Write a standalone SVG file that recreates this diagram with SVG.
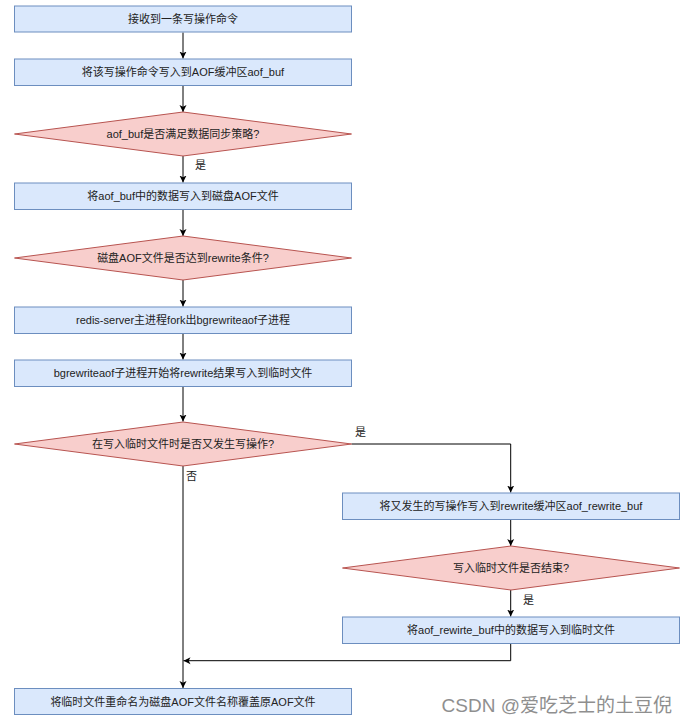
<svg xmlns="http://www.w3.org/2000/svg" width="688" height="724" viewBox="0 0 688 724">
<style>
.box{fill:#dae8fc;stroke:#6c8ebf;stroke-width:1}
.dia{fill:#f8cecc;stroke:#b85450;stroke-width:1}
.t{font-family:"Liberation Sans","Noto Sans CJK SC",sans-serif;font-size:11px;fill:#222;text-anchor:middle;dominant-baseline:central}
.lbl{font-family:"Liberation Sans","Noto Sans CJK SC",sans-serif;font-size:11px;fill:#222;dominant-baseline:central}
.c{fill:none;stroke:#000;stroke-width:1;marker-end:url(#ah)}
.wm{font-family:"Liberation Sans","Noto Sans CJK SC",sans-serif;font-size:19px;fill:#8f8f8f;text-anchor:end}
</style>
<defs>
<marker id="ah" markerWidth="8" markerHeight="8" refX="7" refY="4" orient="auto" markerUnits="userSpaceOnUse">
<path d="M0,0.5 L7,4 L0,7.5 L1.8,4 Z" fill="#000"/>
</marker>
</defs>
<rect width="688" height="724" fill="#fff"/>
<g id="connectors">
<path class="c" d="M183,32.5 V58.5"/>
<path class="c" d="M183,85.5 V112"/>
<path class="c" d="M183,156 V182.5"/>
<path class="c" d="M183,209.5 V236"/>
<path class="c" d="M183,280 V306.5"/>
<path class="c" d="M183,333.5 V359.5"/>
<path class="c" d="M183,386.5 V421.5"/>
<path class="c" d="M351.5,444 H510.7 V492.5"/>
<path class="c" d="M510.7,519.5 V546"/>
<path class="c" d="M510.7,590 V616.5"/>
<path class="c" d="M510.7,643.5 V660.7 H183.5"/>
<path class="c" d="M183,466 V688"/>
<text class="lbl" x="195" y="165">是</text>
<text class="lbl" x="355" y="432">是</text>
<text class="lbl" x="186" y="476">否</text>
<text class="lbl" x="523" y="600">是</text>
</g>
<g id="n1"><rect class="box" x="14.5" y="6" width="337" height="26"/><text class="t" x="183" y="19">接收到一条写操作命令</text></g>
<g id="n2"><rect class="box" x="14.5" y="59" width="337" height="26.5"/><text class="t" x="183" y="72">将该写操作命令写入到AOF缓冲区aof_buf</text></g>
<g id="n3"><polygon class="dia" points="183,112 351.5,134 183,156 14.5,134"/><text class="t" x="183" y="134">aof_buf是否满足数据同步策略?</text></g>
<g id="n4"><rect class="box" x="14.5" y="183" width="337" height="26.5"/><text class="t" x="183" y="196">将aof_buf中的数据写入到磁盘AOF文件</text></g>
<g id="n5"><polygon class="dia" points="183,236 351.5,258 183,280 14.5,258"/><text class="t" x="183" y="258">磁盘AOF文件是否达到rewrite条件?</text></g>
<g id="n6"><rect class="box" x="14.5" y="307" width="337" height="26.5"/><text class="t" x="183" y="320">redis-server主进程fork出bgrewriteaof子进程</text></g>
<g id="n7"><rect class="box" x="14.5" y="360" width="337" height="26.5"/><text class="t" x="183" y="373">bgrewriteaof子进程开始将rewrite结果写入到临时文件</text></g>
<g id="n8"><polygon class="dia" points="183,422 351.5,444 183,466 14.5,444"/><text class="t" x="183" y="444">在写入临时文件时是否又发生写操作?</text></g>
<g id="n9"><rect class="box" x="342.5" y="493" width="337" height="26.5"/><text class="t" x="511" y="506">将又发生的写操作写入到rewrite缓冲区aof_rewrite_buf</text></g>
<g id="n10"><polygon class="dia" points="511,546 679.5,568 511,590 342.5,568"/><text class="t" x="511" y="568">写入临时文件是否结束?</text></g>
<g id="n11"><rect class="box" x="342.5" y="617" width="337" height="26.5"/><text class="t" x="511" y="630">将aof_rewirte_buf中的数据写入到临时文件</text></g>
<g id="n12"><rect class="box" x="14.5" y="688.5" width="337" height="26"/><text class="t" x="183" y="701.5">将临时文件重命名为磁盘AOF文件名称覆盖原AOF文件</text></g>
<text class="wm" x="672" y="712">CSDN @爱吃芝士的土豆倪</text>
</svg>
